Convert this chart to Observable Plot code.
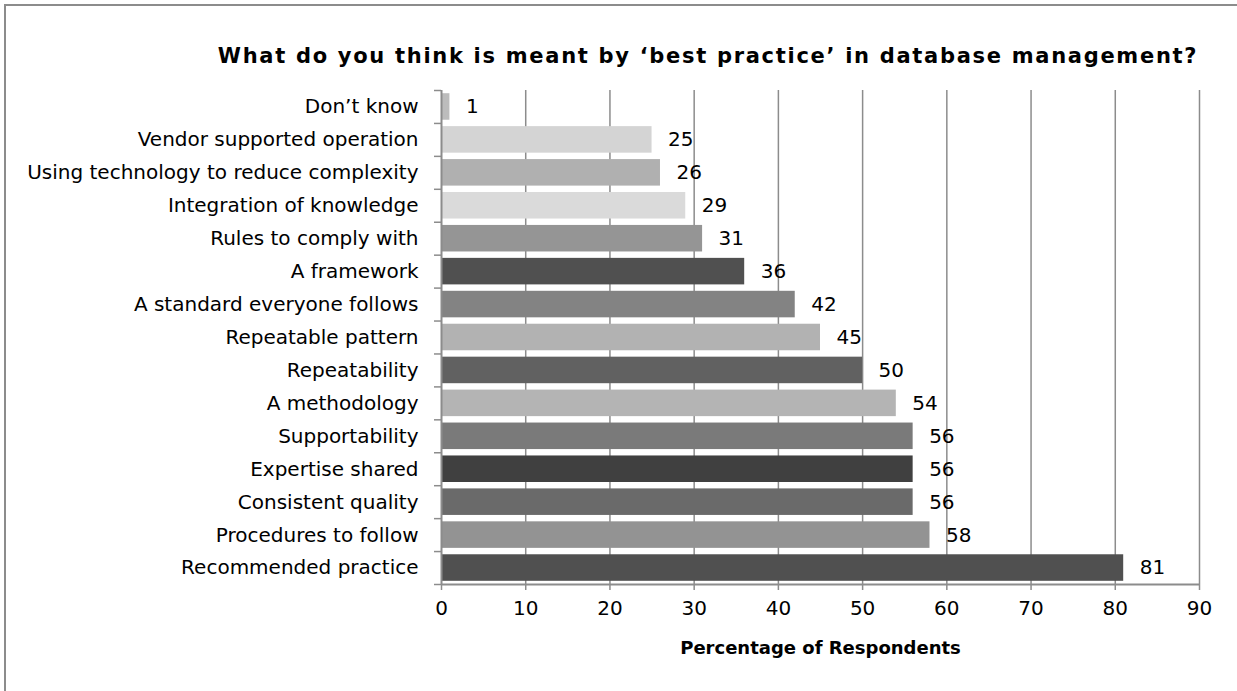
<!DOCTYPE html>
<html>
<head>
<meta charset="utf-8">
<script src="https://cdn.jsdelivr.net/npm/d3@7"></script>
<script src="https://cdn.jsdelivr.net/npm/@observablehq/plot@0.6"></script>
<style>
  html, body { margin: 0; padding: 0; background: #fff; }
  #wrap { position: relative; width: 1237px; height: 691px; overflow: hidden; font-family: "DejaVu Sans", sans-serif; }
  #frame { position: absolute; left: 4px; top: 4px; width: 1300px; height: 800px; border-left: 2px solid #8c8c8c; border-top: 2px solid #8c8c8c; box-sizing: border-box; }
  #title { position: absolute; left: 0; top: 0; width: 1416px; height: 60px; text-align: center; line-height: 112px; font-weight: bold; font-size: 21px; letter-spacing: 1.7px; color: #000; white-space: nowrap; }
  #chart { position: absolute; left: 0; top: 60px; }
</style>
</head>
<body>
<div id="wrap">
  <div id="frame"></div>
  <div id="title">What do you think is meant by ‘best practice’ in database management?</div>
  <div id="chart"></div>
</div>
<script>
const categories = [
  "Don’t know",
  "Vendor supported operation",
  "Using technology to reduce complexity",
  "Integration of knowledge",
  "Rules to comply with",
  "A framework",
  "A standard everyone follows",
  "Repeatable pattern",
  "Repeatability",
  "A methodology",
  "Supportability",
  "Expertise shared",
  "Consistent quality",
  "Procedures to follow",
  "Recommended practice"
];
const values = [1, 25, 26, 29, 31, 36, 42, 45, 50, 54, 56, 56, 56, 58, 81];
const barColors = ["#bcbcbc", "#d4d4d4", "#b0b0b0", "#dadada", "#959595", "#505050", "#838383", "#b2b2b2", "#616161", "#b4b4b4", "#7a7a7a", "#404040", "#6a6a6a", "#939393", "#505050"];
const xTicks = [0, 10, 20, 30, 40, 50, 60, 70, 80, 90];
const xLabel = "Percentage of Respondents";

const data = categories.map((c, i) => ({ category: c, value: values[i], i, color: barColors[i] }));
const bounds = d3.range(categories.length + 1);
const mids = categories.map((c, i) => i + 0.5);

const chart = Plot.plot({
  width: 1237,
  height: 631,
  marginLeft: 441,
  marginRight: 38,
  marginTop: 30,
  marginBottom: 107,
  style: { fontFamily: "DejaVu Sans, sans-serif", fontSize: "19px", color: "#000", background: "transparent" },
  x: { domain: [0, 90] },
  y: { domain: [0, categories.length], range: [30, 524] },
  marks: [
    Plot.ruleX(xTicks.slice(1), { stroke: "#8c8c8c", strokeWidth: 1.5, strokeOpacity: 1 }),
    Plot.rectX(data, { x1: 0, x2: "value", y1: d => d.i, y2: d => d.i + 1, insetTop: 3.2, insetBottom: 3.2, fill: "color" }),
    Plot.ruleY([categories.length], { stroke: "#8c8c8c", strokeWidth: 2 }),
    Plot.ruleX([0], { stroke: "#8c8c8c", strokeWidth: 2 }),
    Plot.axisX({ ticks: xTicks, tickSize: 6, tickPadding: 10, stroke: "#8c8c8c", strokeWidth: 1.5, fontSize: 20, label: null, tickFormat: d => String(d) }),
    Plot.axisY({ ticks: bounds, tickSize: 7, tickFormat: () => "", stroke: "#8c8c8c", strokeWidth: 1.5, label: null }),
    Plot.axisY({ ticks: mids, tickSize: 0, tickPadding: 23, tickFormat: (d) => categories[Math.floor(d)], fontSize: 20, label: null }),
    Plot.text(data, { x: "value", y: d => d.i + 0.5, text: d => String(d.value), textAnchor: "start", dx: 16, fontSize: 20, fill: "#000" }),
    Plot.text([xLabel], { frameAnchor: "bottom", dy: 69, text: d => d, fontWeight: "bold", fontSize: 18, fill: "#000" })
  ]
});
document.getElementById("chart").appendChild(chart);
</script>
</body>
</html>
